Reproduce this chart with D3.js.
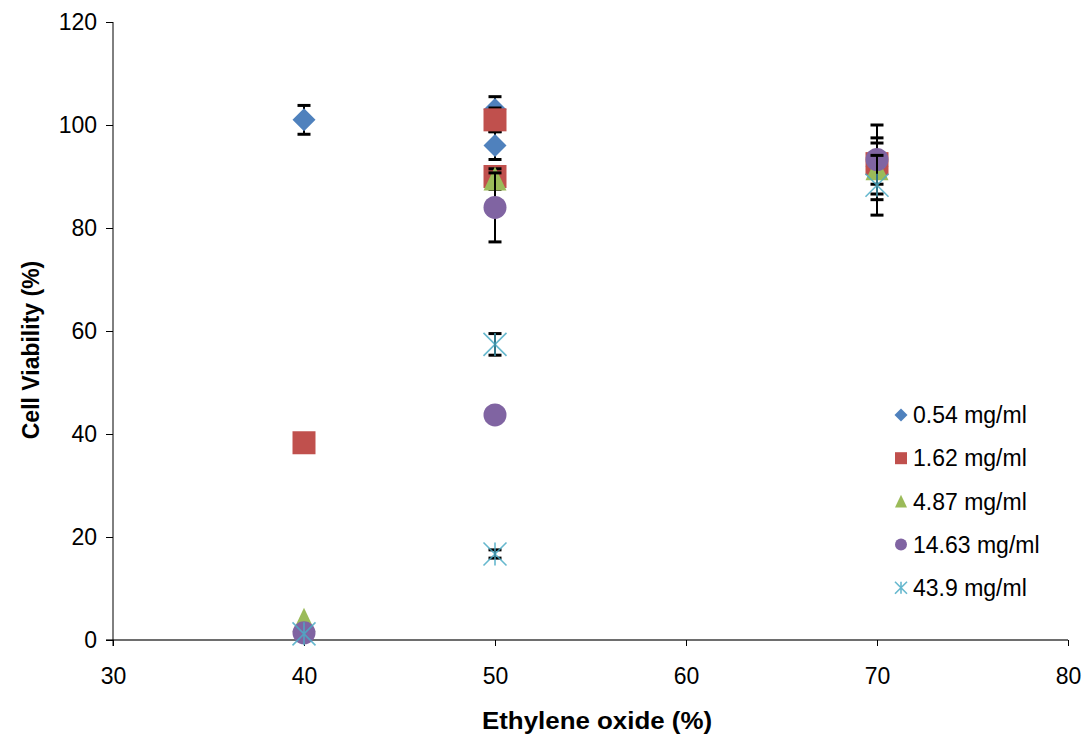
<!DOCTYPE html>
<html>
<head>
<meta charset="utf-8">
<script src="https://cdn.jsdelivr.net/npm/d3@7/dist/d3.min.js"></script>
<style>
  html, body { margin: 0; padding: 0; background: #fff; }
  svg { display: block; font-family: "Liberation Sans", Arial, sans-serif; }
</style>
</head>
<body>
<svg id="chart" width="1084" height="734"></svg>
<script>
// Concentration labels (legend) and series colours
const concentrations = ["0.54 mg/ml", "1.62 mg/ml", "4.87 mg/ml", "14.63 mg/ml", "43.9 mg/ml"];
const markerShapes = ["diamond", "square", "triangle", "circle", "star"];
const seriesColors = ["#4F81BD", "#C0504D", "#9BBB59", "#8064A2", "#4BACC6"];

// Ethylene oxide (%) / cell viability (%) / error (±) per concentration
const eo054  = [40, 50, 50, 70];
const cv054  = [101, 103, 96, 92];
const err054 = [2.8, 2.5, 2.7, 0];

const eo162  = [40, 50, 50, 70];
const cv162  = [38.3, 101, 90, 92.5];
const err162 = [0, 2.3, 0, 4];

const eo487  = [40, 50, 70];
const cv487  = [3.8, 89.5, 91.5];
const err487 = [0, 2, 6];

const eo1463  = [40, 50, 50, 70];
const cv1463  = [1.4, 84, 43.7, 93.3];
const err1463 = [0, 6.7, 0, 6.7];

const eo439  = [40, 50, 50, 70];
const cv439  = [1.2, 57.4, 16.7, 88.3];
const err439 = [0, 2.1, 0.8, 5.8];

const xTicks = [30, 40, 50, 60, 70, 80];
const yTicks = [0, 20, 40, 60, 80, 100, 120];

const seriesX = [eo054, eo162, eo487, eo1463, eo439];
const seriesY = [cv054, cv162, cv487, cv1463, cv439];
const seriesE = [err054, err162, err487, err1463, err439];

const series = concentrations.map((name, i) => ({
  name,
  shape: markerShapes[i],
  color: seriesColors[i],
  points: seriesX[i].map((x, j) => ({ x, y: seriesY[i][j], e: seriesE[i][j] }))
}));

const svg = d3.select("#chart");
const plot = { left: 113, right: 1068, top: 22, bottom: 640 };
const FONT = "Liberation Sans, Arial, sans-serif";

const x = d3.scaleLinear().domain([30, 80]).range([plot.left, plot.right]);
const y = d3.scaleLinear().domain([0, 120]).range([plot.bottom, plot.top]);

// Marker path generator (centred at 0,0)
function markerPath(shape, s) {
  const h = s / 2;
  switch (shape) {
    case "diamond": return `M0,${-h}L${h},0L0,${h}L${-h},0Z`;
    case "square": return `M${-h},${-h}H${h}V${h}H${-h}Z`;
    case "triangle": return `M0,${-h * 1.1}L${h},${h}L${-h},${h}Z`;
    case "circle": return `M${h},0A${h},${h} 0 1,1 ${-h},0A${h},${h} 0 1,1 ${h},0Z`;
    case "star": return `M${-h},${-h}L${h},${h}M${h},${-h}L${-h},${h}M0,${-h}V${h}`;
  }
}

function drawMarker(g, shape, color, size) {
  if (shape === "star") {
    g.append("path").attr("d", markerPath(shape, size))
      .attr("fill", "none").attr("stroke", color).attr("stroke-width", 1.6)
      .attr("stroke-opacity", 0.85);
  } else {
    g.append("path").attr("d", markerPath(shape, size)).attr("fill", color);
  }
}

// Axes
const xAxis = d3.axisBottom(x).tickValues(xTicks).tickSize(6);
const yAxis = d3.axisLeft(y).tickValues(yTicks).tickSize(7).tickPadding(9);

const gx = svg.append("g").attr("transform", `translate(0,${plot.bottom})`).call(xAxis);
gx.select(".domain").attr("stroke", "#6e6e6e").attr("stroke-width", 2.2)
  .attr("d", `M${plot.left - 7},0H${plot.right}`);
gx.selectAll(".tick line").attr("stroke", "#000").attr("stroke-width", 1);
gx.selectAll(".tick text").attr("y", 44).attr("dy", null)
  .attr("font-size", 23).attr("fill", "#000").attr("font-family", FONT);

const gy = svg.append("g").attr("transform", `translate(${plot.left},0)`).call(yAxis);
gy.select(".domain").attr("stroke", "#000").attr("stroke-width", 1)
  .attr("d", `M0,${plot.top}V${plot.bottom + 6}`);
gy.selectAll(".tick line").attr("stroke", "#000").attr("stroke-width", 1);
gy.selectAll(".tick text").attr("font-size", 23).attr("fill", "#000")
  .attr("font-family", FONT);

// Axis titles
svg.append("text")
  .attr("x", 597).attr("y", 729)
  .attr("text-anchor", "middle").attr("font-size", 23).attr("font-weight", "bold")
  .attr("textLength", 230).attr("lengthAdjust", "spacingAndGlyphs")
  .text("Ethylene oxide (%)");

svg.append("text")
  .attr("transform", `translate(39,350) rotate(-90)`)
  .attr("text-anchor", "middle").attr("font-size", 23).attr("font-weight", "bold")
  .text("Cell Viability (%)");

// Series: error bars beneath each series' markers
const capW = 13;
series.forEach(s => {
  const g = svg.append("g").attr("class", "series");
  s.points.filter(p => p.e > 0).forEach(p => {
    const cx = x(p.x), y1 = y(p.y + p.e), y2 = y(p.y - p.e);
    g.append("line").attr("x1", cx).attr("x2", cx).attr("y1", y1).attr("y2", y2)
      .attr("stroke", "#000").attr("stroke-width", 2);
    [y1, y2].forEach(yy => g.append("line")
      .attr("x1", cx - capW / 2).attr("x2", cx + capW / 2).attr("y1", yy).attr("y2", yy)
      .attr("stroke", "#000").attr("stroke-width", 3));
  });
  s.points.forEach(p => {
    const m = g.append("g").attr("transform", `translate(${x(p.x)},${y(p.y)})`);
    drawMarker(m, s.shape, s.color, 23);
  });
});

// Legend
const legend = svg.append("g").attr("transform", "translate(901,415)");
series.forEach((s, i) => {
  const row = legend.append("g").attr("transform", `translate(0,${i * 43.2})`);
  drawMarker(row, s.shape, s.color, s.shape === "diamond" ? 13 : 12);
  row.append("text").attr("x", 12).attr("y", 0).attr("dy", "0.36em")
    .attr("font-size", 23).attr("fill", "#000").attr("font-family", FONT).text(s.name);
});
</script>
</body>
</html>
